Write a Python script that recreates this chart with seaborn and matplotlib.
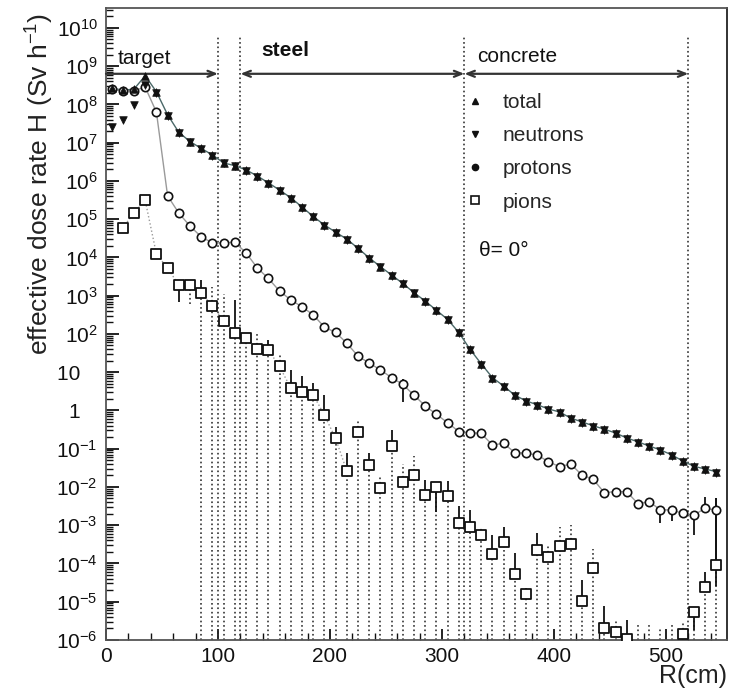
import numpy as np
import pandas as pd
import matplotlib
matplotlib.use("Agg")
import matplotlib.pyplot as plt
import seaborn as sns
from matplotlib.lines import Line2D
from matplotlib.ticker import LogLocator, MultipleLocator, FuncFormatter, NullFormatter

# ---------------- data (log10 of effective dose rate, Sv/h) ----------------
R = [5, 15, 25, 35, 45, 55, 65, 75, 85, 95,
     105, 115, 125, 135, 145, 155, 165, 175, 185, 195,
     205, 215, 225, 235, 245, 255, 265, 275, 285, 295,
     305, 315, 325, 335, 345, 355, 365, 375, 385, 395,
     405, 415, 425, 435, 445, 455, 465, 475, 485, 495,
     505, 515, 525, 535, 545]

total_log = [8.43, 8.37, 8.40, 8.75, 8.33, 7.73, 7.27, 7.03, 6.85, 6.68,
             6.47, 6.40, 6.29, 6.13, 5.95, 5.76, 5.56, 5.32, 5.07, 4.85,
             4.66, 4.48, 4.24, 3.99, 3.76, 3.54, 3.32, 3.08, 2.86, 2.62,
             2.38, 2.04, 1.60, 1.22, 0.86, 0.64, 0.40, 0.25, 0.15, 0.04,
             -0.04, -0.20, -0.30, -0.40, -0.49, -0.59, -0.72, -0.82, -0.93, -1.03,
             -1.16, -1.32, -1.46, -1.53, -1.60]

neutron_log = [7.42, 7.60, 7.98, 8.50, 8.30, 7.70, 7.25, 7.01, 6.83, 6.66,
               6.46, 6.38, 6.27, 6.11, 5.93, 5.74, 5.54, 5.30, 5.05, 4.83,
               4.64, 4.46, 4.22, 3.97, 3.74, 3.52, 3.30, 3.06, 2.84, 2.60,
               2.36, 2.02, 1.58, 1.19, 0.83, 0.61, 0.37, 0.22, 0.12, 0.01,
               -0.07, -0.23, -0.33, -0.43, -0.52, -0.62, -0.75, -0.85, -0.96, -1.06,
               -1.19, -1.35, -1.49, -1.56, -1.63]

proton_log = [8.40, 8.35, 8.36, 8.45, 7.80, 5.61, 5.16, 4.82, 4.54, 4.38,
              4.38, 4.40, 4.12, 3.73, 3.45, 3.12, 2.89, 2.71, 2.50, 2.18,
              2.04, 1.76, 1.42, 1.24, 1.06, 0.86, 0.68, 0.40, 0.12, -0.10,
              -0.32, -0.55, -0.58, -0.60, -0.90, -0.86, -1.10, -1.12, -1.16, -1.34,
              -1.47, -1.40, -1.69, -1.80, -2.15, -2.12, -2.12, -2.44, -2.38, -2.60,
              -2.60, -2.69, -2.73, -2.56, -2.60]

pion_R = [15, 25, 35, 45, 55, 65, 75, 85, 95, 105,
          115, 125, 135, 145, 155, 165, 175, 185, 195, 205,
          215, 225, 235, 245, 255, 265, 275, 285, 295, 305,
          315, 325, 335, 345, 355, 365, 375, 385, 395, 405,
          415, 425, 435, 445, 455, 465, 515, 525, 535, 545]
pion_log = [4.77, 5.17, 5.49, 4.09, 3.72, 3.28, 3.28, 3.07, 2.73, 2.35,
            2.03, 1.90, 1.61, 1.58, 1.15, 0.58, 0.49, 0.41, -0.12, -0.73,
            -1.58, -0.57, -1.42, -2.03, -0.93, -1.86, -1.69, -2.21, -2.01, -2.24,
            -2.93, -3.05, -3.25, -3.75, -3.45, -4.27, -4.80, -3.65, -3.82, -3.54,
            -3.49, -4.97, -4.13, -5.69, -5.78, -5.97, -5.84, -5.26, -4.61, -4.04]
# solid error bars (decades)
pion_err_up = [0, 0, 0, 0, 0, 0, 0, 0.35, 0, 0,
               0.85, 0, 0, 0.26, 0, 0.48, 0.42, 0.32, 0.52, 0.30,
               0.48, 0, 0.32, 0, 0.42, 0, 0, 0.40, 0, 0.40,
               0.42, 0.45, 0, 0.50, 0.40, 0.55, 0, 0.45, 0, 0,
               0, 0.55, 0, 0.57, 0, 0.50, 0, 0, 0.40, 1.75]
pion_err_dn = [0, 0, 0, 0, 0, 0.45, 0, 0, 0, 0,
               0, 0, 0, 0, 0, 0, 0, 0, 0, 0,
               0, 0, 0, 0, 0, 0, 0, 0.15, 0.65, 0,
               0, 0, 0, 0, 0, 0, 0, 0, 0, 0,
               0, 0, 0, 0, 0, 0, 0, 0.47, 0, 0.55]
# dotted (upper) error bars (decades)
pion_dot_up = [0, 0, 0, 0, 0, 0, 0, 0, 0.5, 0.7,
               0, 0, 0.43, 0, 0.35, 0, 0, 0, 0, 0,
               0, 0.30, 0, 0.30, 0, 0.45, 0.50, 0, 0, 0,
               0, 0, 0.20, 0, 0, 0, 0.15, 0, 0.30, 0.50,
               0.50, 0, 0.50, 0, 0.30, 0, 0.30, 0, 0, 0]
# pion bins below the axis range: only their dotted upper error is visible
pion_off_R = [475, 485, 495, 505]
pion_off_top = [-5.60, -5.62, -5.65, -5.60]

proton_err_R = [265, 495, 505, 525, 535, 545]
proton_err_up = [0.15, 0, 0, 0, 0.30, 0.30]
proton_err_dn = [0.45, 0.35, 0.30, 0.52, 0, 1.30]

region_bounds = [100, 120, 320, 520]
region_names = ["target", "steel", "concrete"]
region_spans = [(0, 100), (120, 320), (320, 520)]

# ---------------- style ----------------
sns.set_theme(style="white")
plt.rcParams["font.family"] = ["Liberation Sans", "DejaVu Sans"]
plt.rcParams["mathtext.fontset"] = "custom"
plt.rcParams["mathtext.rm"] = "Liberation Sans"
plt.rcParams["mathtext.it"] = "Liberation Sans:italic"
plt.rcParams["mathtext.bf"] = "Liberation Sans:bold"

W, H = 731, 690
fig = plt.figure(figsize=(W / 100, H / 100), dpi=100)
ax = fig.add_axes([106 / W, 50 / H, (727 - 106) / W, (640 - 8) / H])

ymin, ymax = 1e-6, 10 ** 10.52
ax.set_yscale("log")
ax.set_xlim(0, 554.5)
ax.set_ylim(ymin, ymax)

def tolin(a):
    return 10 ** np.asarray(a, dtype=float)

df_tot = pd.DataFrame({"R": R, "H": tolin(total_log)})
df_neu = pd.DataFrame({"R": R, "H": tolin(neutron_log)})
df_pro = pd.DataFrame({"R": R, "H": tolin(proton_log)})
df_pi = pd.DataFrame({"R": pion_R, "H": tolin(pion_log)})

ink = "#111111"

# vertical region boundaries
ax.vlines(region_bounds, ymin, 10 ** 9.76, colors="#333333", linestyles=":", lw=1.2, zorder=1)

# pion dotted error bars (down to the axis) and dotted upper errors
pR = np.array(pion_R, float)
pv = np.array(pion_log, float)
mask = pR >= 85
ax.vlines(pR[mask], ymin, tolin(pv[mask]), colors="#333333", linestyles=":", lw=1.2, zorder=1)
du = np.array(pion_dot_up, float)
m2 = du > 0
ax.vlines(pR[m2], tolin(pv[m2]), tolin(pv[m2] + du[m2]), colors="#333333", linestyles=":", lw=1.2, zorder=1)
ax.vlines([75], tolin([pion_log[6] - 0.5]), tolin([pion_log[6]]), colors="#333333", linestyles=":", lw=1.2)
ax.vlines(pion_off_R, ymin, tolin(pion_off_top), colors="#333333", linestyles=":", lw=1.2, zorder=1)

# solid error bars
eu = np.array(pion_err_up, float)
ed = np.array(pion_err_dn, float)
m3 = eu > 0
ax.vlines(pR[m3], tolin(pv[m3]), tolin(pv[m3] + eu[m3]), colors=ink, lw=1.3, zorder=2)
m4 = ed > 0
ax.vlines(pR[m4], tolin(pv[m4] - ed[m4]), tolin(pv[m4]), colors=ink, lw=1.3, zorder=2)
pe = np.array([proton_log[R.index(r)] for r in proton_err_R])
ax.vlines(proton_err_R, tolin(pe - np.array(proton_err_dn)), tolin(pe + np.array(proton_err_up)),
          colors=ink, lw=1.3, zorder=2)

# connecting lines
sns.lineplot(data=df_tot, x="R", y="H", color="#4a6868", lw=1.0, ax=ax, zorder=2)
sns.lineplot(data=df_pro, x="R", y="H", color="#9a9a9a", lw=1.0, ax=ax, zorder=2)
sns.lineplot(data=df_pi[df_pi.R <= 215], x="R", y="H", color="#9a9a9a", lw=1.0,
             linestyle=":", ax=ax, zorder=2)

# markers
sns.scatterplot(data=df_pro, x="R", y="H", marker="o", s=36, facecolor="white",
                edgecolor=ink, linewidth=1.2, ax=ax, zorder=3)
sns.scatterplot(data=df_pi, x="R", y="H", marker="s", s=52, facecolor="white",
                edgecolor=ink, linewidth=1.3, ax=ax, zorder=4)
sns.scatterplot(data=df_tot, x="R", y="H", marker="^", s=30, color=ink,
                edgecolor=ink, linewidth=0.5, ax=ax, zorder=5)
sns.scatterplot(data=df_neu, x="R", y="H", marker="v", s=30, color=ink,
                edgecolor=ink, linewidth=0.5, ax=ax, zorder=5)

# region arrows and names
yarr = 10 ** 8.80
for (a, b), name in zip(region_spans, region_names):
    style = "->" if a == 0 else "<->"
    ax.annotate("", xy=(b, yarr), xytext=(a, yarr),
                arrowprops=dict(arrowstyle=style + ",head_length=0.45,head_width=0.18",
                                lw=1.6, color="#333333", shrinkA=0, shrinkB=0))
ax.text(10, 10 ** 9.20, "target", fontsize=15, va="center", ha="left", color=ink)
ax.text(139, 10 ** 9.42, "steel", fontsize=15, fontweight="bold", va="center", ha="left", color=ink)
ax.text(331, 10 ** 9.24, "concrete", fontsize=15, va="center", ha="left", color=ink)
ax.text(333, 10 ** 4.18, "θ= 0°", fontsize=15, va="center", ha="left", color=ink)

# legend
handles = [Line2D([], [], ls="none", marker="^", ms=4.5, color=ink),
           Line2D([], [], ls="none", marker="v", ms=4.5, color=ink),
           Line2D([], [], ls="none", marker="o", ms=4.5, color=ink),
           Line2D([], [], ls="none", marker="s", ms=5.5, mfc="white", mec=ink, mew=1.2)]
ax.legend(handles, ["total", "neutrons", "protons", "pions"], loc="upper left",
          bbox_to_anchor=(465 / W, 1 - 93 / H), bbox_transform=fig.transFigure,
          frameon=False, fontsize=15, handlelength=1.0, handletextpad=0.8,
          labelspacing=0.68, borderpad=0, borderaxespad=0)

# axes, ticks
def yfmt(v, pos):
    k = int(round(np.log10(v)))
    if k == 0:
        return "1   "
    if k == 1:
        return "10   "
    return r"$10^{%d}$" % k

ax.yaxis.set_major_locator(LogLocator(base=10, numticks=40))
ax.yaxis.set_minor_locator(LogLocator(base=10, subs=np.arange(2, 10), numticks=40))
ax.yaxis.set_major_formatter(FuncFormatter(yfmt))
ax.yaxis.set_minor_formatter(NullFormatter())
ax.xaxis.set_major_locator(MultipleLocator(100))
ax.xaxis.set_minor_locator(MultipleLocator(20))
ax.tick_params(axis="y", which="major", direction="in", length=9, width=1.3,
               labelsize=15, pad=6, left=True, right=False, colors=ink)
ax.tick_params(axis="y", which="minor", direction="in", length=5, width=1.0, left=True, right=False, colors=ink)
ax.tick_params(axis="x", which="major", direction="in", length=8, width=1.3,
               labelsize=15, pad=5, bottom=True, top=False, colors=ink)
ax.tick_params(axis="x", which="minor", direction="in", length=5, width=1.0, bottom=True, top=False, colors=ink)
for s in ax.spines.values():
    s.set_color("#555555")
    s.set_linewidth(1.3)
ax.spines["right"].set_color("#222222")
ax.set_xlabel("")
ax.set_ylabel("")

fig.text(40 / W, 1 - 13 / H, "effective dose rate H (Sv h$^{-1}$)", rotation=90,
         ha="center", va="top", fontsize=19, color="#222222")
fig.text(727 / W, 1 - 676 / H, "R(cm)", ha="right", va="center", fontsize=18, color="#222222")

fig.savefig("out.png", dpi=100, facecolor="white")
